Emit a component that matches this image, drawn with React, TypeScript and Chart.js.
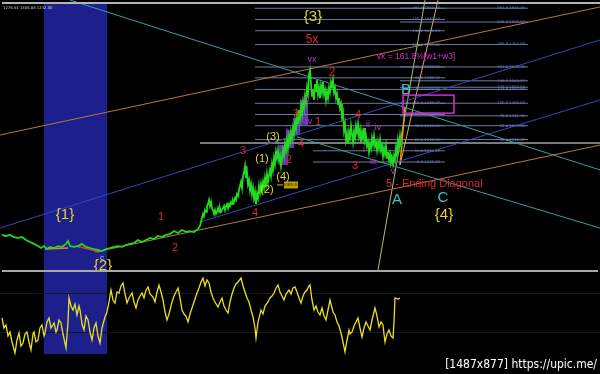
import React, { useEffect, useRef } from "react";
import { Chart, registerables } from "chart.js";
Chart.register(...registerables);

// ---- price series (weekly bars, index units) ----
const priceX = [2,6,10,14,18,22,26,30,34,38,41,44,47,50,54,58,62,66,68,70,74,78,82,86,90,94,98,102,106,110,114,118,122,126,130,134,138,142,146,150,154,158,162,166,170,174,178,182,186,190,194,198,
  200,201,202,203,204,205,206,207,208,209,210,211,212,213,214,215,216,217,218,219,220,221,222,224,225,226,227,228,229,230,231,232,233,234,235,236,237,238,239,
  240,241,242,243,244,245,246,247,248,249,250,251,252,253,254,255,256,257,258,259,260,261,262,263,264,265,266,267,268,269,270,271,272,273,274,275,276,277,278,279,280,281,282,283,284,285,286,287,288,289,290,291,292,293,294,295,296,297,298,299,300,301,302,303,304,305,306,307,308,309,310,311,312,313,314,315,316,317,318,319,320,321,322,323,324,325,326,327,328,329,330,331,332,333,334,335,336,337,338,339,340,341,342,343,344,345,346,347,348,349,350,351,352,353,354,355,356,357,358,359,360,361,362,363,364,365,366,367,368,369,370,371,372,373,374,375,376,377,378,379,380,381,382,383,384,385,386,387,388,389,390,391,392,393,394,395,396,397,398,399,400,401,402];
const priceY = [866,861,866,856,852,856,842,833,824,814,805,814,800,810,805,814,810,824,838,814,810,814,824,810,805,800,796,791,800,805,810,814,810,819,824,828,842,833,842,852,847,861,856,866,870,884,875,889,880,884,880,894,
  908,926,945,964,954,982,973,1001,1010,1029,1001,1020,991,982,964,982,964,973,991,973,991,973,982,1001,982,1001,1010,991,1010,1001,1020,1010,1029,1020,1038,1029,1057,1048,1075,
  1094,1113,1085,1141,1159,1187,1131,1159,1103,1122,1075,1103,1057,1085,1038,1066,1010,1057,1038,1094,1066,1103,1075,1113,1085,1131,1103,1150,1113,1141,1169,1141,1197,1169,1225,1197,1253,1225,1262,1215,1234,1187,1225,1262,1234,1290,1262,1309,1271,1327,1299,1346,1318,1365,1337,1393,1365,1420,1383,1448,1411,1467,1430,1486,1458,1514,1486,1551,1523,1616,1635,1570,1514,1542,1495,1570,1532,1588,1523,1551,1504,1560,1532,1579,1523,1542,1495,1532,1504,1551,1532,1579,1560,1588,1532,1551,1504,1523,1476,1504,1458,1476,1420,1439,1355,1383,1309,1337,1290,1346,1318,1374,1337,1299,1346,1318,1374,1346,1383,1327,1355,1299,1346,1318,1365,1309,1327,1281,1299,1253,1290,1271,1318,1290,1327,1281,1299,1262,1299,1271,1309,1262,1281,1234,1271,1243,1281,1225,1253,1215,1243,1206,1225,1197,1234,1215,1271,1243,1309,1281,1327,1281,1271];

// ---- oscillator ----
const oscX = [2,4,6,8,10,12,15,17,19,21,23,25,27,29,31,33,34,36,38,40,42,44,45,47,49,51,54,56,57,59,61,63,66,68,69,71,73,75,77,79,80,82,84,86,88,90,92,94,96,98,100,102,105,107,109,111,113,115,117,119,121,123,125,127,129,132,134,136,138,140,142,144,146,148,150,153,155,157,159,161,163,165,167,169,170,172,174,176,178,180,182,184,186,188,190,192,194,197,199,201,203,205,207,209,211,213,215,218,220,222,224,226,228,230,232,234,236,238,241,243,245,247,249,251,253,255,256,258,261,263,265,268,270,272,274,276,278,280,282,284,286,289,291,293,295,297,299,301,303,305,307,309,310,312,314,316,318,320,322,324,326,328,330,332,333,335,337,339,341,343,345,347,349,350,352,354,356,358,360,362,364,366,368,370,372,375,377,379,381,383,384,385,387,389,391,393,394,395,398,400];
const oscV = [54,44,47,36,40,30,19,32,39,26,29,38,40,30,22,38,40,30,32,44,47,36,39,50,54,44,49,40,42,52,49,38,24,50,74,66,62,68,57,66,62,48,42,56,52,40,32,44,49,36,29,44,55,60,70,82,72,69,80,79,86,89,78,69,74,79,70,64,72,76,79,74,82,85,78,75,70,80,87,80,72,60,52,58,62,70,76,80,84,74,62,58,56,50,58,64,70,79,84,90,94,86,92,89,80,74,70,65,70,74,66,62,59,70,78,84,88,90,94,86,80,74,70,62,55,44,34,50,62,58,66,70,74,76,79,84,87,80,76,72,78,82,78,84,85,80,74,69,76,80,82,86,87,72,62,66,60,57,64,56,52,62,72,64,60,57,50,46,39,30,20,32,42,38,40,46,50,54,44,35,44,50,46,42,52,64,56,45,50,47,38,30,38,42,36,34,50,74,73,74];
const oscLevels = [79, 40];

// ---- Fibonacci levels ----
const leftFibLevels = [0, 11.8, 23.6, 38.2, 50, 61.8, 76.4, 88.6, 100, 123.6, 138.2, 150, 161.8];
const leftFibPrices = [1206.0, 1258.27, 1310.55, 1375.23, 1427.5, 1479.77, 1544.45, 1598.5, 1649.0, 1753.55, 1818.23, 1870.5, 1922.77];
const rightFibLevels = [38.2, 61.8, 78.6, 100, 123.6, 127.2, 138.2, 161.8, 200, 238.2, 261.8];
const rightFibPrices = [1310.67, 1375.33, 1421.36, 1480.0, 1544.66, 1554.53, 1584.67, 1649.33, 1754.0, 1858.67, 1923.33];

// ---- trend lines [x1, p1, x2, p2] ----
const trendLines: number[][] = [
  [0, 1332, 600, 1929],
  [70, 1961, 600, 1169],
  [297, 1323, 600, 898],
  [0, 898, 600, 1775],
  [200, 926, 600, 1495],
  [95, 786, 600, 1285],
  [378, 702, 425, 1961],
  [400, 1192, 438, 1961],
  [200, 1295, 600, 1295],
  [400, 1192, 405, 1463],
  [45, 800, 68, 805],
  [76, 814, 100, 786],
];
const trendColors = ["#b47a3c", "#3f9aa6", "#3a9a9a", "#3448b8", "#3448b8", "#b47a3c", "#b8b870", "#d0b060", "#7a7a7a", "#ff8800", "#ff7a20", "#e03a20"];
const trendWidths = [1, 1, 1, 1, 1, 1, 1, 1, 2, 1.5, 1.5, 1.5];

// ---- wave labels ----
const waveText = ["{3}", "5x", "vx", "2", "B", "ii", "3", "iv", "1", "i", "2", "4", "(3)", "(1)", "(4)", "(2)", "3", "4", "4", "ii", "iv", "i", "iii", "3", "v", "A", "C", "{4}", "{1}", "1", "2", "{2}", "c", "vx = 161.8%[w1+w3]", "5 - Ending Diagonal"];
const waveX = [313, 312, 312, 332, 406, 305, 296, 309, 318, 287, 289, 301, 273, 262, 283, 267, 243, 255, 358, 368, 378, 364, 373, 355, 393, 397, 443, 444, 65, 161, 175, 103, 102, 416, 386];
const waveP = [1882, 1775, 1682, 1621, 1542, 1500, 1430, 1393, 1393, 1355, 1215, 1290, 1323, 1220, 1136, 1075, 1257, 968, 1425, 1379, 1369, 1262, 1206, 1187, 1160, 1029, 1038, 959, 959, 950, 805, 721, 758, 1696, 1103];
const waveKind = ["Y", "R", "m", "R", "C", "m", "r", "m", "r", "m", "r", "r", "y", "y", "y", "y", "r", "r", "r", "m", "m", "m", "m", "r", "m", "C", "C", "Y", "Y", "r", "r", "Y", "w", "M", "E"];

// ---- zones ----
const bandStart = 44;
const bandEnd = 107;
const bandOscBottom = 18;
const waveBoxes: number[][] = [
  [279, 1285, 288, 1192],
  [286, 1355, 294, 1271],
  [293, 1411, 300, 1332],
  [300, 1495, 308, 1379],
];
const targetBox = [403, 1518, 454, 1434];
const priceTag = { x: 289, p: 1099, text: "1089.44" };
const headerText = "1276.34 1308.88 1242.00";
const watermark = "[1487x877] https://upic.me/";

const kindStyle: Record<string, { color: string; font: string; align: CanvasTextAlign }> = {
  Y: { color: "#e6d22a", font: "15px 'Liberation Sans', Arial, sans-serif", align: "center" },
  y: { color: "#e6d22a", font: "11px 'Liberation Sans', Arial, sans-serif", align: "center" },
  R: { color: "#e02828", font: "12px 'Liberation Sans', Arial, sans-serif", align: "center" },
  r: { color: "#e02828", font: "11px 'Liberation Sans', Arial, sans-serif", align: "center" },
  C: { color: "#46c0c0", font: "15px 'Liberation Sans', Arial, sans-serif", align: "center" },
  M: { color: "#d030d0", font: "8.5px 'Liberation Sans', Arial, sans-serif", align: "center" },
  m: { color: "#c030d0", font: "9px 'Liberation Sans', Arial, sans-serif", align: "center" },
  w: { color: "#c8c8c8", font: "8px 'Liberation Sans', Arial, sans-serif", align: "center" },
  E: { color: "#e02828", font: "11px 'Liberation Sans', Arial, sans-serif", align: "left" },
};

const seg = (x1: number, p1: number, x2: number, p2: number) => [
  { x: x1, y: p1 },
  { x: x2, y: p2 },
];

export default function App() {
  const topRef = useRef<HTMLCanvasElement>(null);
  const botRef = useRef<HTMLCanvasElement>(null);

  useEffect(() => {
    document.body.style.margin = "0";
    document.body.style.background = "#000";

    const datasets: any[] = [];
    datasets.push({
      data: priceX.map((x, i) => ({ x, y: priceY[i] })),
      borderColor: "#22d822",
      borderWidth: 1.8,
      pointRadius: 0,
      tension: 0,
    });
    trendLines.forEach((t, i) => {
      datasets.push({
        data: seg(t[0], t[1], t[2], t[3]),
        borderColor: trendColors[i],
        borderWidth: trendWidths[i],
        pointRadius: 0,
      });
    });
    leftFibPrices.forEach((p, i) => {
      const start = leftFibLevels[i] < 20 ? 313 : 255;
      datasets.push({ data: seg(start, p, 445, p), borderColor: "#6a7aa0", borderWidth: 1, pointRadius: 0 });
    });
    rightFibPrices.forEach((p) => {
      datasets.push({ data: seg(400, p, 528, p), borderColor: "#6a7aa0", borderWidth: 1, pointRadius: 0 });
    });

    const topPlugin = {
      id: "topDecor",
      beforeDraw(chart: any) {
        const c = chart.ctx;
        c.save();
        c.fillStyle = "#000";
        c.fillRect(0, 0, chart.width, chart.height);
        c.restore();
      },
      beforeDatasetsDraw(chart: any) {
        const c = chart.ctx;
        const xs = chart.scales.x;
        const ys = chart.scales.y;
        c.save();
        c.fillStyle = "#1c1f8c";
        const bx1 = xs.getPixelForValue(bandStart);
        const bx2 = xs.getPixelForValue(bandEnd);
        c.fillRect(bx1, 4, bx2 - bx1, chart.height - 4);
        c.fillStyle = "rgba(120,60,210,0.85)";
        waveBoxes.forEach((b) => {
          const x1 = xs.getPixelForValue(b[0]);
          const x2 = xs.getPixelForValue(b[2]);
          const y1 = ys.getPixelForValue(b[1]);
          const y2 = ys.getPixelForValue(b[3]);
          c.fillRect(x1, y1, x2 - x1, y2 - y1);
        });
        c.restore();
      },
      afterDatasetsDraw(chart: any) {
        const c = chart.ctx;
        const xs = chart.scales.x;
        const ys = chart.scales.y;
        c.save();
        // fib labels
        c.font = "3.8px 'DejaVu Sans', sans-serif";
        c.fillStyle = "#6a7ccc";
        c.textAlign = "right";
        c.textBaseline = "middle";
        leftFibPrices.forEach((p, i) => {
          c.fillText(`${leftFibLevels[i].toFixed(1)} ${p.toFixed(2)}`, xs.getPixelForValue(440), ys.getPixelForValue(p));
        });
        rightFibPrices.forEach((p, i) => {
          c.fillText(`${rightFibLevels[i].toFixed(1)} ${p.toFixed(2)}`, xs.getPixelForValue(525), ys.getPixelForValue(p));
        });
        // target box
        c.strokeStyle = "#d030d0";
        c.lineWidth = 1.5;
        const tx1 = xs.getPixelForValue(targetBox[0]);
        const tx2 = xs.getPixelForValue(targetBox[2]);
        const ty1 = ys.getPixelForValue(targetBox[1]);
        const ty2 = ys.getPixelForValue(targetBox[3]);
        c.strokeRect(tx1, ty1, tx2 - tx1, ty2 - ty1);
        // price tag
        const px = xs.getPixelForValue(priceTag.x);
        const py = ys.getPixelForValue(priceTag.p);
        c.strokeStyle = "#d8c000";
        c.lineWidth = 1;
        c.beginPath();
        c.moveTo(px - 12, py);
        c.lineTo(px - 6, py);
        c.stroke();
        c.fillStyle = "#b8a000";
        c.fillRect(px - 5, py - 3.5, 14, 7);
        c.fillStyle = "#202000";
        c.font = "4px 'DejaVu Sans', sans-serif";
        c.textAlign = "center";
        c.fillText(priceTag.text, px + 2, py);
        // wave labels
        c.textBaseline = "middle";
        waveText.forEach((t, i) => {
          const st = kindStyle[waveKind[i]];
          c.font = st.font;
          c.fillStyle = st.color;
          c.textAlign = st.align;
          c.fillText(t, xs.getPixelForValue(waveX[i]), ys.getPixelForValue(waveP[i]));
        });
        // header
        c.font = "3.8px 'DejaVu Sans', sans-serif";
        c.fillStyle = "#d0d0d0";
        c.textAlign = "left";
        c.fillText(headerText, 3, 8);
        // frame lines
        c.fillStyle = "#b4b4b4";
        c.fillRect(2, 2, chart.width - 2, 2);
        c.fillStyle = "#a8a8a8";
        c.fillRect(2, chart.height - 2, chart.width - 4, 2);
        c.restore();
      },
    };

    const top = new Chart(topRef.current!, {
      type: "line",
      data: { datasets },
      options: {
        animation: false,
        responsive: false,
        devicePixelRatio: 1,
        layout: { padding: 0 },
        plugins: { legend: { display: false }, tooltip: { enabled: false } },
        scales: {
          x: { type: "linear", min: 0, max: 600, display: false },
          y: { type: "linear", min: 693.1, max: 1961.4, display: false },
        },
      },
      plugins: [topPlugin],
    } as any);

    const botPlugin = {
      id: "botDecor",
      beforeDraw(chart: any) {
        const c = chart.ctx;
        c.save();
        c.fillStyle = "#000";
        c.fillRect(0, 0, chart.width, chart.height);
        c.restore();
      },
      beforeDatasetsDraw(chart: any) {
        const c = chart.ctx;
        const xs = chart.scales.x;
        const ys = chart.scales.y;
        c.save();
        c.fillStyle = "#1c1f8c";
        const bx1 = xs.getPixelForValue(bandStart);
        const bx2 = xs.getPixelForValue(bandEnd);
        const by = ys.getPixelForValue(bandOscBottom);
        c.fillRect(bx1, 0, bx2 - bx1, by);
        c.strokeStyle = "#161616";
        c.lineWidth = 1;
        oscLevels.forEach((v) => {
          const y = Math.round(ys.getPixelForValue(v)) + 0.5;
          c.beginPath();
          c.moveTo(0, y);
          c.lineTo(chart.width, y);
          c.stroke();
        });
        c.restore();
      },
      afterDraw(chart: any) {
        const c = chart.ctx;
        c.save();
        c.font = "12px 'DejaVu Sans Condensed', 'DejaVu Sans', sans-serif";
        c.fillStyle = "#ffffff";
        c.textAlign = "right";
        c.textBaseline = "alphabetic";
        c.fillText(watermark, 597, chart.height - 6);
        c.restore();
      },
    };

    const bot = new Chart(botRef.current!, {
      type: "line",
      data: {
        datasets: [
          {
            data: oscX.map((x, i) => ({ x, y: oscV[i] })),
            borderColor: "#e8e020",
            borderWidth: 1.3,
            pointRadius: 0,
            tension: 0,
          },
        ],
      },
      options: {
        animation: false,
        responsive: false,
        devicePixelRatio: 1,
        layout: { padding: 0 },
        plugins: { legend: { display: false }, tooltip: { enabled: false } },
        scales: {
          x: { type: "linear", min: 0, max: 600, display: false },
          y: { type: "linear", min: -2, max: 100, display: false },
        },
      },
      plugins: [botPlugin],
    } as any);

    return () => {
      top.destroy();
      bot.destroy();
    };
  }, []);

  return (
    <div style={{ position: "relative", width: 600, height: 374, background: "#000", overflow: "hidden" }}>
      <canvas ref={topRef} width={600} height={272} style={{ position: "absolute", left: 0, top: 0, width: 600, height: 272 }} />
      <canvas ref={botRef} width={600} height={102} style={{ position: "absolute", left: 0, top: 272, width: 600, height: 102 }} />
    </div>
  );
}
